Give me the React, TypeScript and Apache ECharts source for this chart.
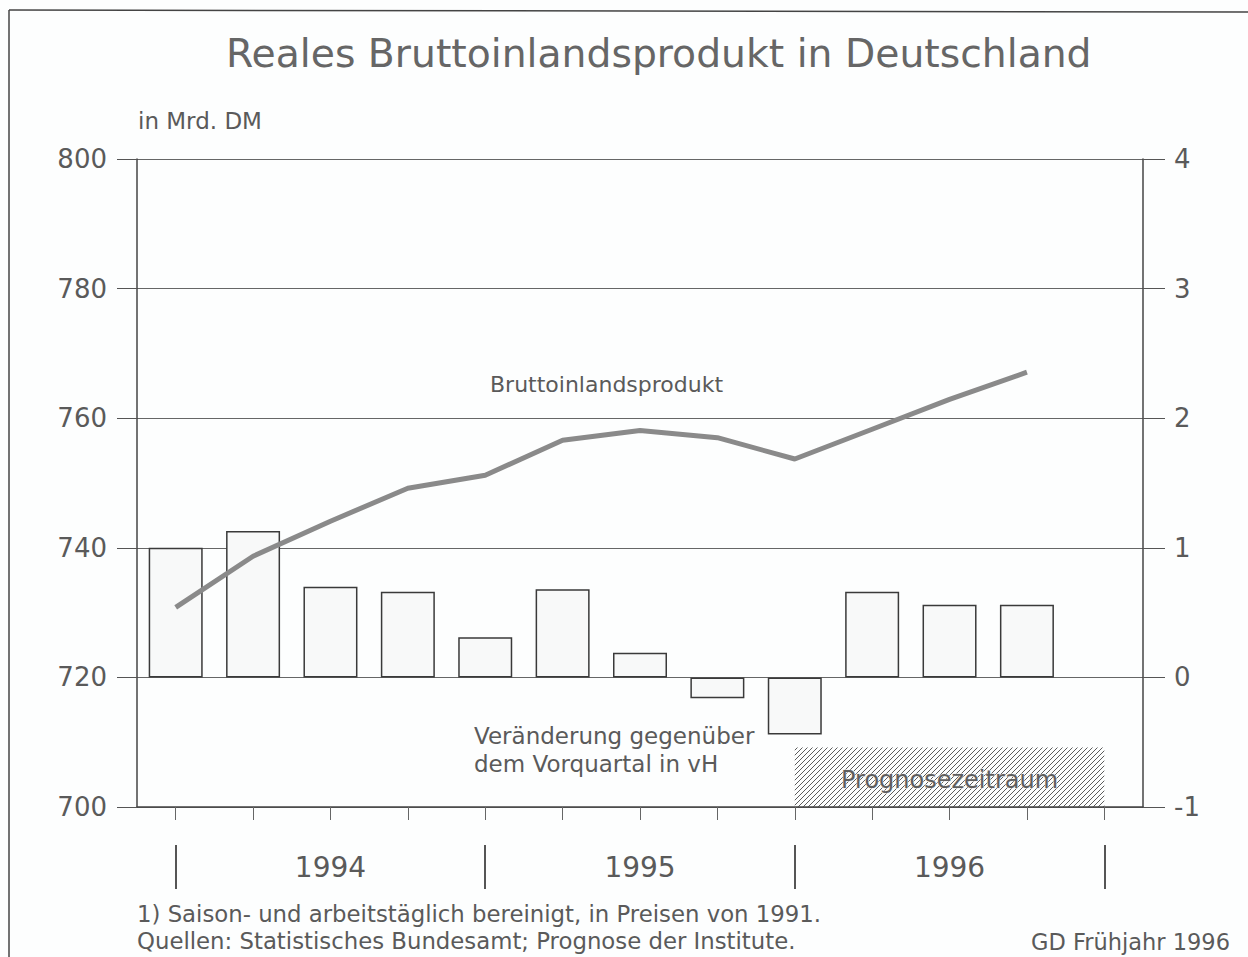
import React, { useEffect, useRef } from "react";
import * as echarts from "echarts";

const quarters = [
  "1994 I", "1994 II", "1994 III", "1994 IV",
  "1995 I", "1995 II", "1995 III", "1995 IV",
  "1996 I", "1996 II", "1996 III", "1996 IV",
  "1997 I",
];
const yearLabels = ["1994", "1995", "1996"];
const bipLevel = [730.8, 738.7, 744.1, 749.2, 751.2, 756.6, 758.1, 757.0, 753.7, 758.3, 762.9, 767.1];
const changePct = [1.0, 1.13, 0.7, 0.66, 0.31, 0.68, 0.19, -0.16, -0.44, 0.66, 0.56, 0.56];
const forecastStart = "1996 I";
const forecastEnd = "1997 I";
const forecastTop = -0.54;
const leftTicks = { min: 700, max: 800, interval: 20 };
const rightTicks = { min: -1, max: 4, interval: 1 };

const FONT = "'DejaVu Sans', 'Liberation Sans', Arial, sans-serif";
const TEXT = "#5a5a5a";
const AXIS = "#444";

function makeHatch(): HTMLCanvasElement {
  const c = document.createElement("canvas");
  const s = 5;
  c.width = s;
  c.height = s;
  const ctx = c.getContext("2d")!;
  ctx.strokeStyle = "#4a4a4a";
  ctx.lineWidth = 1;
  ctx.beginPath();
  ctx.moveTo(-1, s + 1);
  ctx.lineTo(s + 1, -1);
  ctx.moveTo(-1, 1);
  ctx.lineTo(1, -1);
  ctx.moveTo(s - 1, s + 1);
  ctx.lineTo(s + 1, s - 1);
  ctx.stroke();
  return c;
}

export default function App() {
  const ref = useRef<HTMLDivElement>(null);
  useEffect(() => {
    if (!ref.current) return;
    const chart = echarts.init(ref.current, null, { renderer: "svg" });
    const hatch = makeHatch();
    chart.setOption({
      animation: false,
      backgroundColor: "#fdfefe",
      textStyle: { fontFamily: FONT },
      title: {
        text: "Reales Bruttoinlandsprodukt in Deutschland",
        left: 221,
        top: 29,
        textStyle: { fontFamily: FONT, fontSize: 39.3, fontWeight: "normal", color: "#666" },
      },
      grid: { left: 137, right: 105, top: 159, bottom: 150 },
      xAxis: [
        {
          type: "category",
          data: quarters,
          boundaryGap: true,
          axisLine: { show: true, onZero: false, lineStyle: { color: AXIS, width: 1.5 } },
          axisTick: { show: true, alignWithLabel: true, length: 13, lineStyle: { color: "#666" } },
          axisLabel: { show: false },
        },
        {
          type: "category",
          data: quarters,
          position: "bottom",
          offset: 38,
          boundaryGap: true,
          axisLine: { show: false, onZero: false },
          axisTick: {
            show: true,
            alignWithLabel: true,
            length: 44,
            interval: (i: number) => i % 4 === 0,
            lineStyle: { color: "#555", width: 2 },
          },
          axisLabel: {
            show: true,
            interval: (i: number) => i % 4 === 2,
            formatter: (_v: string, i: number) => yearLabels[Math.floor(i / 4)] ?? "",
            fontSize: 28,
            color: TEXT,
            margin: 8,
            fontFamily: FONT,
          },
        },
      ],
      yAxis: [
        {
          type: "value",
          position: "left",
          ...leftTicks,
          axisLine: { show: true, lineStyle: { color: AXIS, width: 1.5 } },
          axisTick: { show: true, length: 20, lineStyle: { color: "#555" } },
          axisLabel: { fontSize: 26, color: TEXT, margin: 30, fontFamily: FONT },
          splitLine: { show: true, lineStyle: { color: "#666", width: 1 } },
        },
        {
          type: "value",
          position: "right",
          ...rightTicks,
          axisLine: { show: true, lineStyle: { color: AXIS, width: 1.5 } },
          axisTick: { show: true, length: 22, lineStyle: { color: "#555" } },
          axisLabel: { fontSize: 26, color: TEXT, margin: 31, fontFamily: FONT },
          splitLine: { show: false },
        },
      ],
      series: [
        {
          type: "bar",
          xAxisIndex: 0,
          yAxisIndex: 1,
          data: changePct,
          barWidth: 54,
          itemStyle: { color: "#f8f9f9", borderColor: "#3a3a3a", borderWidth: 1.5 },
          markArea: {
            silent: true,
            itemStyle: { color: { image: hatch, repeat: "repeat" } as any, opacity: 0.9 },
            label: {
              show: true,
              position: "inside",
              offset: [0, 3],
              formatter: "Prognosezeitraum",
              fontSize: 24,
              color: "#5e5e5e",
              fontFamily: FONT,
              textBorderColor: "#eeeeee",
              textBorderWidth: 1,
            },
            data: [[
              { xAxis: forecastStart, yAxis: rightTicks.min },
              { xAxis: forecastEnd, yAxis: forecastTop },
            ]],
          },
        },
        {
          type: "line",
          xAxisIndex: 0,
          yAxisIndex: 0,
          data: bipLevel,
          symbol: "none",
          z: 5,
          lineStyle: { color: "#8a8a8a", width: 5 },
        },
      ],
      graphic: [
        { type: "line", shape: { x1: 9, y1: 10, x2: 1248, y2: 12 }, style: { stroke: "#444", lineWidth: 1.5 } },
        { type: "line", shape: { x1: 9, y1: 10, x2: 9, y2: 957 }, style: { stroke: "#444", lineWidth: 1.5 } },
        {
          type: "text", left: 138, top: 109,
          style: { text: "in Mrd. DM", fontSize: 23, fill: TEXT, fontFamily: FONT },
        },
        {
          type: "text", left: 490, top: 373,
          style: { text: "Bruttoinlandsprodukt", fontSize: 22, fill: TEXT, fontFamily: FONT },
        },
        {
          type: "text", left: 474, top: 722,
          style: { text: "Veränderung gegenüber\ndem Vorquartal in vH", fontSize: 23, lineHeight: 28, fill: TEXT, fontFamily: FONT },
        },
        {
          type: "text", left: 137, top: 902,
          style: { text: "1) Saison- und arbeitstäglich bereinigt, in Preisen von 1991.", fontSize: 22.8, fill: TEXT, fontFamily: FONT },
        },
        {
          type: "text", left: 137, top: 929,
          style: { text: "Quellen: Statistisches Bundesamt; Prognose der Institute.", fontSize: 22.8, fill: TEXT, fontFamily: FONT },
        },
        {
          type: "text", right: 18, top: 930,
          style: { text: "GD Frühjahr 1996", fontSize: 22.5, fill: TEXT, fontFamily: FONT },
        },
      ],
    });
    return () => chart.dispose();
  }, []);
  return (
    <div
      ref={ref}
      style={{ position: "fixed", left: 0, top: 0, width: 1248, height: 957 }}
    />
  );
}
